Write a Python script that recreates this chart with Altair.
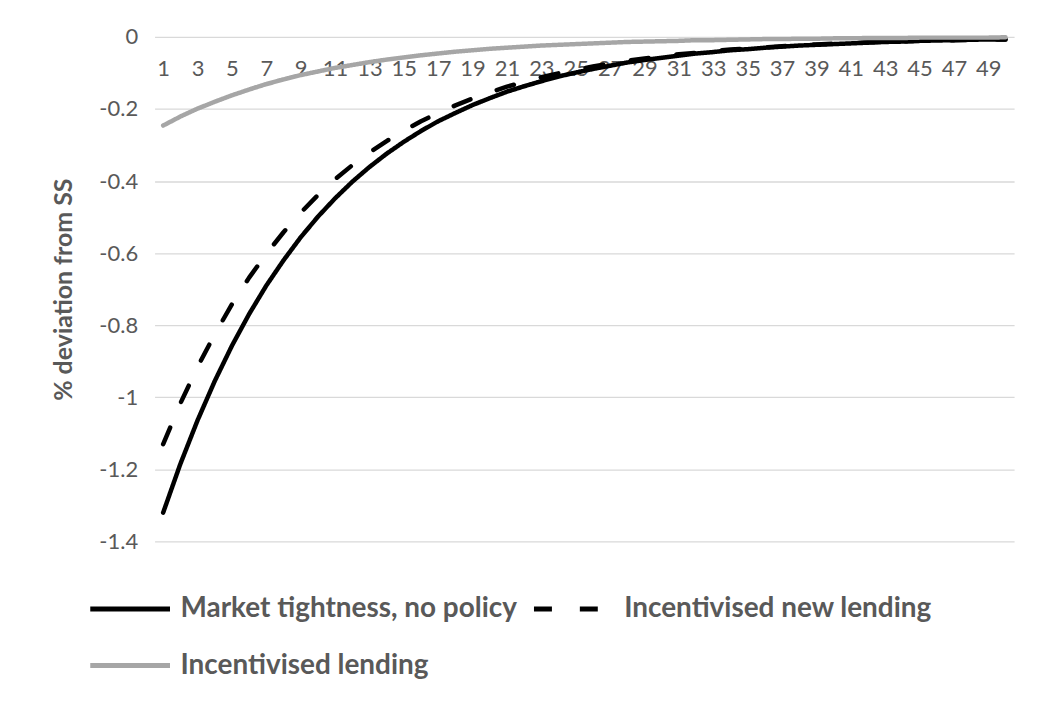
import altair as alt
import pandas as pd

periods = list(range(1, 51))

no_policy = [-1.320, -1.185, -1.064, -0.955, -0.857, -0.769, -0.690, -0.620, -0.556, -0.499,
             -0.448, -0.402, -0.361, -0.324, -0.291, -0.261, -0.234, -0.211, -0.189, -0.170,
             -0.152, -0.137, -0.123, -0.110, -0.099, -0.089, -0.080, -0.071, -0.064, -0.058,
             -0.052, -0.046, -0.042, -0.037, -0.034, -0.030, -0.027, -0.024, -0.022, -0.020,
             -0.018, -0.016, -0.014, -0.013, -0.011, -0.010, -0.009, -0.008, -0.007, -0.007]

new_lending = [-1.130, -1.017, -0.916, -0.825, -0.742, -0.668, -0.602, -0.542, -0.488, -0.439,
               -0.395, -0.356, -0.321, -0.289, -0.260, -0.234, -0.211, -0.190, -0.171, -0.154,
               -0.138, -0.125, -0.112, -0.101, -0.091, -0.082, -0.074, -0.066, -0.060, -0.054,
               -0.048, -0.044, -0.039, -0.035, -0.032, -0.029, -0.026, -0.023, -0.021, -0.019,
               -0.017, -0.015, -0.014, -0.012, -0.011, -0.010, -0.009, -0.008, -0.007, -0.007]

lending = [-0.246, -0.221, -0.199, -0.180, -0.162, -0.146, -0.131, -0.118, -0.106, -0.096,
           -0.086, -0.078, -0.070, -0.063, -0.057, -0.051, -0.046, -0.041, -0.037, -0.033,
           -0.030, -0.027, -0.024, -0.022, -0.020, -0.018, -0.016, -0.014, -0.013, -0.012,
           -0.011, -0.009, -0.009, -0.008, -0.007, -0.006, -0.006, -0.005, -0.005, -0.004,
           -0.004, -0.003, -0.003, -0.003, -0.002, -0.002, -0.002, -0.002, -0.002, -0.001]

series_names = ["Market tightness, no policy", "Incentivised new lending", "Incentivised lending"]
series_colors = ["#000000", "#000000", "#a6a6a6"]
series_dashes = [[1, 0], [18, 28], [1, 0]]

x_tick_labels = list(range(1, 50, 2))
y_ticks = [0, -0.2, -0.4, -0.6, -0.8, -1.0, -1.2, -1.4]
y_title = "% deviation from SS"

rows = []
for name, vals in zip(series_names, [no_policy, new_lending, lending]):
    for p, v in zip(periods, vals):
        rows.append({"period": p, "value": v, "series": name})
df = pd.DataFrame(rows)

FONT = "Lato"
TXT = "#595959"
W, H = 862, 506

chart = alt.Chart(df).mark_line(strokeWidth=4.5, strokeCap="round", strokeJoin="round").encode(
    x=alt.X("period:O",
            scale=alt.Scale(padding=0.5),
            axis=alt.Axis(values=x_tick_labels, labelAngle=0, offset=-H, domain=False,
                          ticks=False, grid=False, labelPadding=22, title=None,
                          labelFont=FONT, labelFontSize=22, labelColor=TXT)),
    y=alt.Y("value:Q",
            scale=alt.Scale(domain=[-1.4, 0], nice=False, zero=False),
            axis=alt.Axis(values=y_ticks, domain=False, ticks=False, grid=True,
                          gridColor="#d9d9d9", gridWidth=1.3, labelPadding=17,
                          labelExpr="datum.value == 0 ? '0' : '-' + format(abs(datum.value), '~g')",
                          labelFont=FONT, labelFontSize=22, labelColor=TXT,
                          title=y_title, titleFont=FONT, titleFontSize=25,
                          titleFontWeight="bold", titleColor=TXT, titleX=-91, titleY=H / 2,
                          titleAngle=270, titleAlign="center", titleBaseline="middle")),
    color=alt.Color("series:N",
                    scale=alt.Scale(domain=series_names, range=series_colors),
                    legend=alt.Legend(title=None)),
    strokeDash=alt.StrokeDash("series:N",
                              scale=alt.Scale(domain=series_names, range=series_dashes),
                              legend=alt.Legend(title=None)),
).properties(
    width=W, height=H,
    autosize=alt.AutoSizeParams(type="none"),
    padding={"left": 147, "top": 28, "right": 30, "bottom": 150},
    background="white",
).configure_view(
    stroke=None
).configure_legend(
    orient="none", legendX=-67, legendY=531, columns=2, direction="horizontal",
    symbolType="stroke", symbolSize=6400, symbolStrokeWidth=5,
    labelFont=FONT, labelFontSize=28, labelFontWeight="bold", labelColor=TXT,
    labelOffset=8, labelLimit=0, columnPadding=6, rowPadding=-26,
)

chart.save("out.html", embed_options={"renderer": "svg", "actions": False})
